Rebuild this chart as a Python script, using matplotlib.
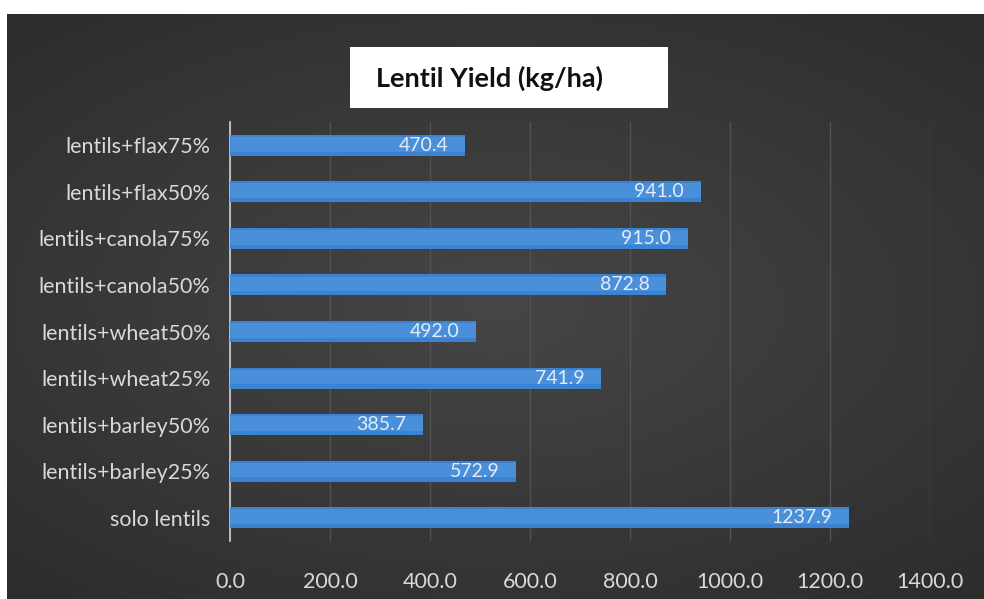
import numpy as np
import matplotlib.pyplot as plt
from matplotlib.patches import Rectangle

categories = ["solo lentils", "lentils+barley25%", "lentils+barley50%",
              "lentils+wheat25%", "lentils+wheat50%", "lentils+canola50%",
              "lentils+canola75%", "lentils+flax50%", "lentils+flax75%"]
yields = [1237.9, 572.9, 385.7, 741.9, 492.0, 872.8, 915.0, 941.0, 470.4]
x_ticks = [0, 200, 400, 600, 800, 1000, 1200, 1400]
title = "Lentil Yield (kg/ha)"

W, H = 984, 599
fig = plt.figure(figsize=(W / 100, H / 100), dpi=100, facecolor="white")

# dark panel with a soft radial gradient
bg = fig.add_axes([7 / W, 0, 1 - 7 / W, 1 - 14 / H])
bg.set_axis_off()
yy, xx = np.mgrid[-1:1:300j, -1:1:500j]
r = np.sqrt((xx * 0.9) ** 2 + (yy * 1.0) ** 2)
shade = np.clip(0.275 - 0.075 * r, 0.17, 0.3)
img = np.dstack([shade, shade, shade])
bg.imshow(img, aspect="auto", extent=[0, 1, 0, 1], interpolation="bilinear")
bg.set_xlim(0, 1)
bg.set_ylim(0, 1)

# plot area
x0, x1 = 230, 930
y_top, y_bot = 122, 541
ax = fig.add_axes([x0 / W, 1 - y_bot / H, (x1 - x0) / W, (y_bot - y_top) / H])
ax.patch.set_alpha(0)
ax.set_xlim(0, 1400)
ax.set_ylim(-0.5, len(categories) - 0.5)

pos = np.arange(len(categories))
bh = 0.45
ax.barh(pos, yields, height=bh, color="#3a82d2", zorder=3)
# lighter sheen across the upper middle of each bar
ax.barh(pos + bh * 0.05, yields, height=bh * 0.7, color="#5c9fe4",
        alpha=0.45, zorder=3.5)
for p, v in zip(pos, yields):
    ax.text(v - 33, p, f"{v:.1f}", ha="right", va="center",
            color="#e4ecf7", fontsize=14, family="Lato", zorder=5)

ax.set_xticks(x_ticks)
ax.set_xticklabels([f"{t:.1f}" for t in x_ticks])
ax.set_yticks(pos)
ax.set_yticklabels(categories)
ax.tick_params(axis="both", length=0, colors="#d9d9d9", labelsize=15.5)
ax.tick_params(axis="x", pad=22)
ax.tick_params(axis="y", pad=14)
for lbl in ax.get_xticklabels() + ax.get_yticklabels():
    lbl.set_family("Lato")
ax.grid(axis="x", color="#525252", linewidth=1, zorder=0)
ax.set_axisbelow(True)
for s in ["top", "right", "bottom"]:
    ax.spines[s].set_visible(False)
ax.spines["left"].set_color("#d0d0d0")
ax.spines["left"].set_linewidth(1.2)

# title in a white box
fig.patches.append(Rectangle((350 / W, 1 - 108 / H), 318 / W, 61 / H,
                             transform=fig.transFigure, facecolor="white",
                             edgecolor="none", zorder=10))
fig.text(490 / W, 1 - 78 / H, title, ha="center", va="center",
         fontsize=19.5, fontweight="bold", family="Lato", color="#111111",
         zorder=11)

fig.savefig("out.png", dpi=100, facecolor="white")
